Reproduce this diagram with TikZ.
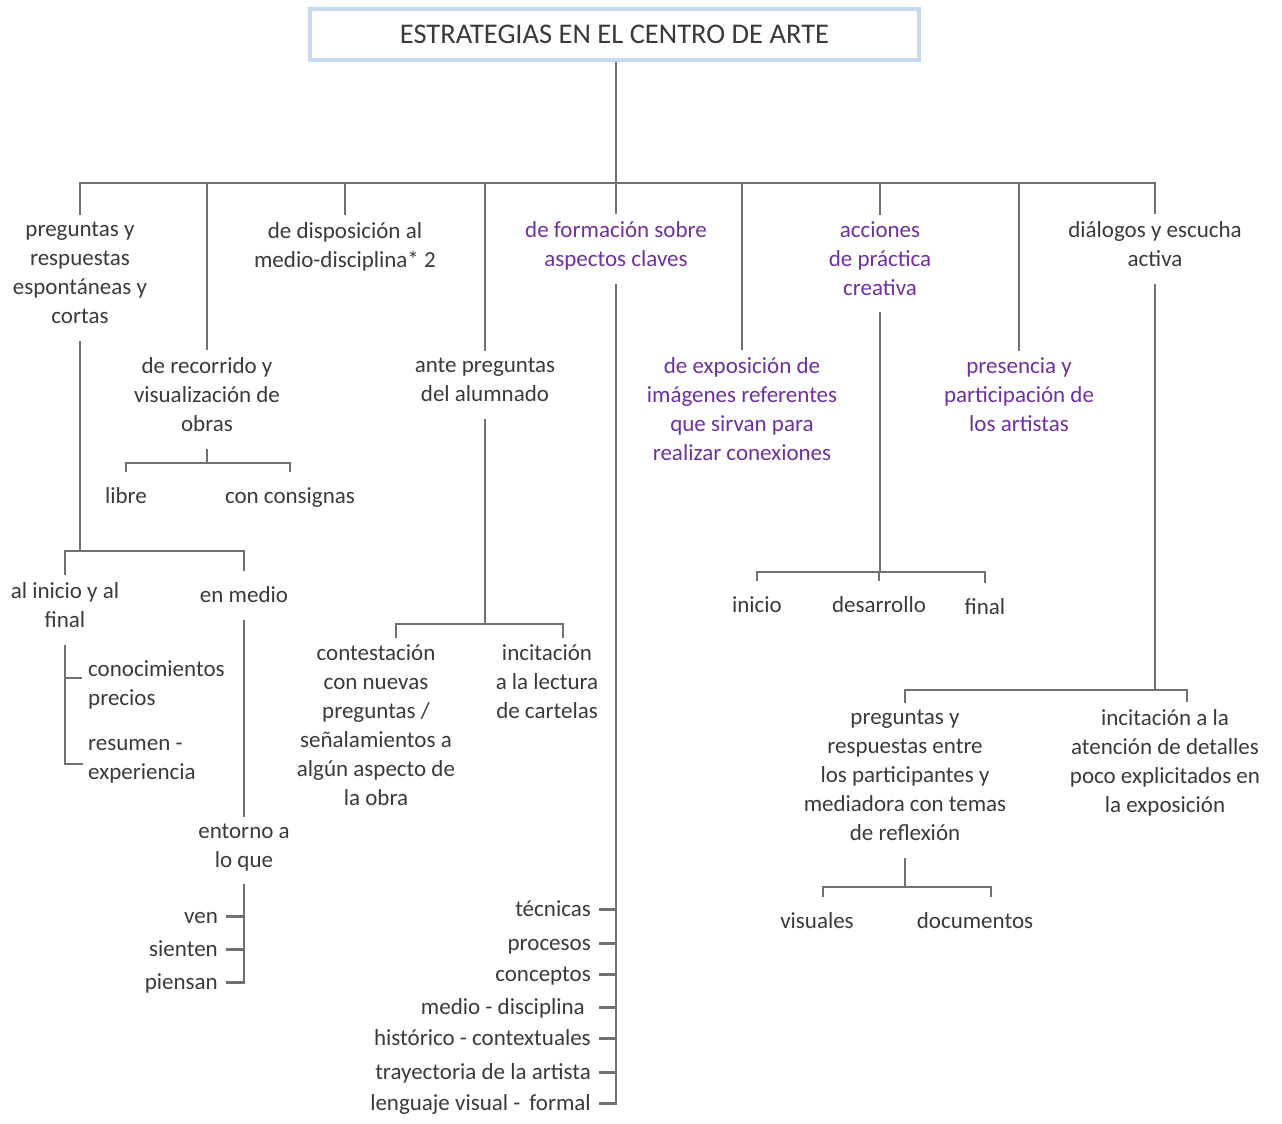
\documentclass[tikz,border=0pt]{standalone}
\usepackage{fontspec}
\setmainfont{Carlito}
\usepackage{xcolor}
\usepackage{tikz}
\usetikzlibrary{positioning,calc}
\definecolor{inkgray}{HTML}{3A3A3A}
\definecolor{linegray}{HTML}{707070}
\definecolor{mpurple}{HTML}{7030A0}
\definecolor{framebl}{HTML}{C6D9EE}
% struts that fix the first and last line of every label
\newcommand\topstrut{\rule{0pt}{24.3pt}}
\newcommand\botstrut{\rule[-9.7pt]{0pt}{9.7pt}}
\tikzset{
  lbl/.style={align=center,text=inkgray,inner xsep=5pt,inner ysep=7pt,yshift=-2.5pt,
    font=\fontsize{23}{29}\selectfont,
    execute at begin node=\topstrut,execute at end node=\botstrut},
  hl/.style={lbl,text=mpurple},
  leaf/.style={lbl,align=left,anchor=west},
  item/.style={lbl,anchor=east,inner xsep=8pt},
  link/.style={draw=linegray,line width=2.4pt},
  titlebox/.style={draw=framebl,line width=4pt,minimum width=609pt,minimum height=51pt,
    text=inkgray,font=\fontsize{28.5}{32}\selectfont},
}
\begin{document}
\begin{tikzpicture}[x=1pt,y=-1pt]
\useasboundingbox (0,0) rectangle (1282,1124);

% title and main bus
\node[titlebox] (title) at (614.5,34.5) {ESTRATEGIAS EN EL CENTRO DE ARTE};
\coordinate (bus) at (616,183);

% first row of strategies
\node[lbl] (pr)   at (80,275.5)   {preguntas y\\respuestas\\espontáneas y\\cortas};
\node[lbl] (disp) at (345,247.5)  {de disposición al\\medio-disciplina* 2};
\node[hl]  (frm)  at (616,246.5)  {de formación sobre\\aspectos claves};
\node[hl]  (acc)  at (880,261)    {acciones\\de práctica\\creativa};
\node[lbl] (dial) at (1155,246.5) {diálogos y escucha\\activa};

% second row of strategies
\node[lbl] (rec)  at (207,397)    {de recorrido y\\visualización de\\obras};
\node[lbl] (ante) at (485,382.5)  {ante preguntas\\del alumnado};
\node[hl]  (expo) at (742,411.5)  {de exposición de\\imágenes referentes\\que sirvan para\\realizar conexiones};
\node[hl]  (pres) at (1019,397)   {presencia y\\participación de\\los artistas};

\draw[link] (title.south -| bus) -- (bus);
\draw[link] (pr.north) |- (bus) -| (dial.north);
\foreach \n in {disp,frm,acc,rec,ante,expo,pres}
  \draw[link] (\n.north) -- (\n.north |- bus);

% preguntas y respuestas
\node[lbl] (ini) at (65,607.5) {al inicio y al\\final};
\node[lbl] (med) at (244,593)  {en medio};
\coordinate (prj) at (80,551);
\draw[link] (pr.south) -- (prj);
\draw[link] (ini.north) |- (prj) -| (med.north);

\node[leaf] (con) at (83,685.5) {conocimientos\\precios};
\node[leaf] (res) at (83,761.5) {resumen -\\experiencia};
\draw[link] (ini.south) |- (res.west);
\draw[link] ($(ini.south |- con.west)+(0,-10)$) -- ++(17,0);

\node[lbl] (ent) at (244,848) {entorno a\\lo que};
\draw[link] (med.south) -- (ent.north);
\node[item] (ven) at (226,914) {ven};
\node[item] (sie) at (226,947) {sienten};
\node[item] (pie) at (226,980) {piensan};
\draw[link] (ent.south) |- (pie.east);
\foreach \n in {ven,sie}
  \draw[link] (\n.east) -- (\n.east -| ent.south);

% recorrido
\node[lbl] (lib)  at (126,494) {libre};
\node[lbl] (cons) at (290,494) {con consignas};
\coordinate (recj) at (207,463);
\draw[link] (rec.south) -- (recj);
\draw[link] (lib.north) |- (recj) -| (cons.north);

% ante preguntas del alumnado
\node[lbl] (cont) at (376,727.5) {contestación\\con nuevas\\preguntas /\\señalamientos a\\algún aspecto de\\la obra};
\node[lbl] (lect) at (547,684)   {incitación\\a la lectura\\de cartelas};
\coordinate (antej) at (485,624);
\draw[link] (ante.south) -- (antej);
\draw[link] ([xshift=20pt]cont.north) |- (antej) -| ([xshift=16pt]lect.north);

% formación: list of aspects
\node[item] (tec) at (599,907)  {técnicas};
\node[item] (pro) at (599,941)  {procesos};
\node[item] (cpt) at (599,972)  {conceptos};
\node[item] (mdi) at (599,1005) {medio - disciplina\hspace{6pt}};
\node[item] (his) at (599,1036) {histórico - contextuales};
\node[item] (tra) at (599,1070) {trayectoria de la artista};
\node[item] (len) at (599,1101) {lenguaje visual -\, formal};
\draw[link] (frm.south) |- (len.east);
\foreach \n in {tec,pro,cpt,mdi,his,tra}
  \draw[link] (\n.east) -- (\n.east -| frm.south);

% acciones de práctica creativa
\node[lbl] (ini2) at (757,603) {inicio};
\node[lbl] (des)  at (879,603) {desarrollo};
\node[lbl] (fin)  at (985,605) {final};
\coordinate (accj) at (880,572);
\draw[link] (acc.south) -- (accj);
\draw[link] (ini2.north) |- (accj) -| (fin.north);
\draw[link] (des.north) -- (des.north |- accj);

% diálogos y escucha
\node[lbl] (preg) at (905,778)   {preguntas y\\respuestas entre\\los participantes y\\mediadora con temas\\de reflexión};
\node[lbl] (aten) at (1165,763.5) {incitación a la\\atención de detalles\\poco explicitados en\\la exposición};
\coordinate (dialj) at (1155,690);
\draw[link] (dial.south) -- (dialj);
\draw[link] (preg.north) |- (dialj) -| ([xshift=22pt]aten.north);

\node[lbl] (vis) at (817,919) {visuales};
\node[lbl] (doc) at (975,919) {documentos};
\coordinate (pregj) at (905,887);
\draw[link] (preg.south) -- (pregj);
\draw[link] ([xshift=6pt]vis.north) |- (pregj) -| ([xshift=16pt]doc.north);
\end{tikzpicture}
\end{document}
